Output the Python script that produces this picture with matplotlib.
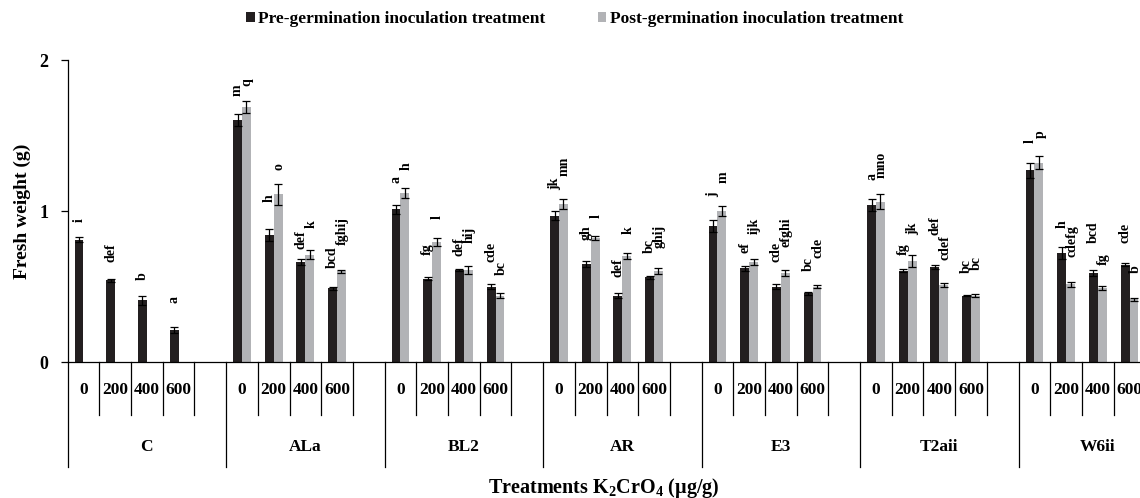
import matplotlib
matplotlib.use('Agg')
import matplotlib.pyplot as plt
from matplotlib.patches import Patch
from matplotlib.transforms import blended_transform_factory

plt.rcParams['font.family'] = ['Liberation Serif', 'DejaVu Serif']
plt.rcParams['font.weight'] = 'bold'
plt.rcParams['mathtext.fontset'] = 'custom'
plt.rcParams['mathtext.rm'] = 'Liberation Serif:bold'
plt.rcParams['mathtext.bf'] = 'Liberation Serif:bold'
plt.rcParams['mathtext.it'] = 'Liberation Serif:bold:italic'

# ---------------- data ----------------
groups = ['C', 'ALa', 'BL2', 'AR', 'E3', 'T2aii', 'W6ii']
doses = ['0', '200', '400', '600']
series_names = ['Pre-germination inoculation treatment',
                'Post-germination inoculation treatment']

pre = [[0.81, 0.54, 0.41, 0.21],
       [1.60, 0.84, 0.66, 0.49],
       [1.01, 0.55, 0.61, 0.50],
       [0.97, 0.65, 0.44, 0.56],
       [0.90, 0.62, 0.50, 0.455],
       [1.04, 0.605, 0.63, 0.44],
       [1.27, 0.72, 0.59, 0.645]]
pre_err = [[0.015, 0.01, 0.03, 0.02],
           [0.04, 0.04, 0.02, 0.01],
           [0.03, 0.01, 0.005, 0.015],
           [0.03, 0.02, 0.015, 0.01],
           [0.04, 0.015, 0.015, 0.01],
           [0.04, 0.01, 0.015, 0.005],
           [0.05, 0.04, 0.02, 0.01]]
post = [None,
        [1.69, 1.11, 0.71, 0.60],
        [1.12, 0.795, 0.61, 0.44],
        [1.045, 0.82, 0.70, 0.60],
        [1.00, 0.66, 0.59, 0.50],
        [1.06, 0.67, 0.51, 0.44],
        [1.32, 0.515, 0.49, 0.415]]
post_err = [None,
            [0.04, 0.07, 0.03, 0.01],
            [0.035, 0.025, 0.025, 0.015],
            [0.035, 0.015, 0.02, 0.02],
            [0.035, 0.02, 0.018, 0.01],
            [0.05, 0.04, 0.01, 0.01],
            [0.045, 0.015, 0.015, 0.01]]
pre_letters = [['i', 'def', 'b', 'a'],
               ['m', 'h', 'def', 'bcd'],
               ['a', 'fg', 'def', 'cde'],
               ['jk', 'gh', 'def', 'bc'],
               ['j', 'ef', 'cde', 'bc'],
               ['a', 'fg', 'def', 'bc'],
               ['l', 'h', 'bcd', 'cde']]
post_letters = [None,
                ['q', 'o', 'k', 'fghij'],
                ['h', 'l', 'hij', 'bc'],
                ['mn', 'l', 'k', 'ghij'],
                ['m', 'ijk', 'efghi', 'cde'],
                ['mno', 'jk', 'cdef', 'bc'],
                ['p', 'cdefg', 'fg', 'b']]

# ---------------- layout / style ----------------
# gap between top of error bar and the significance letters (annotation placement)
pre_gap = [[0.105, 0.11, 0.10, 0.16],
           [0.12, 0.18, 0.07, 0.12],
           [0.145, 0.15, 0.09, 0.15],
           [0.14, 0.14, 0.11, 0.15],
           [0.15, 0.09, 0.145, 0.14],
           [0.125, 0.095, 0.195, 0.145],
           [0.13, 0.125, 0.18, 0.135]]
post_gap = [None,
            [0.10, 0.09, 0.145, 0.165],
            [0.115, 0.13, 0.15, 0.12],
            [0.15, 0.12, 0.13, 0.135],
            [0.15, 0.17, 0.155, 0.18],
            [0.11, 0.13, 0.155, 0.16],
            [0.12, 0.165, 0.135, 0.165]]

c_pre = '#231f20'
c_post = '#b2b3b6'
slots_per_group = 5
bw = 0.28

W, H = 1140, 498
fig = plt.figure(figsize=(W / 100, H / 100), dpi=100)
left_px, top_px, bot_px = 67.6, 60, 362
slot_px = 31.7
ax = fig.add_axes([left_px / W, 1 - bot_px / H, 1 - left_px / W, (bot_px - top_px) / H])
ax.set_xlim(0, (W - left_px) / slot_px)
ax.set_ylim(0, 2)

for g in range(len(groups)):
    for d in range(len(doses)):
        base = g * slots_per_group + d
        xp = base + 0.5 - bw / 2
        ax.bar(xp, pre[g][d], width=bw, color=c_pre, zorder=2)
        ax.errorbar(xp, pre[g][d], yerr=pre_err[g][d], fmt='none', ecolor='black',
                    elinewidth=0.9, capsize=3, capthick=0.9, zorder=3)
        ax.text(xp, pre[g][d] + pre_err[g][d] + pre_gap[g][d], pre_letters[g][d],
                rotation=90, ha='center', va='bottom', fontsize=10, fontweight='bold')
        if post[g] is not None:
            xq = base + 0.5 + bw / 2
            ax.bar(xq, post[g][d], width=bw, color=c_post, zorder=2)
            ax.errorbar(xq, post[g][d], yerr=post_err[g][d], fmt='none', ecolor='black',
                        elinewidth=0.9, capsize=3, capthick=0.9, zorder=3)
            ax.text(xq + 0.03, post[g][d] + post_err[g][d] + post_gap[g][d], post_letters[g][d],
                    rotation=90, ha='center', va='bottom', fontsize=10, fontweight='bold')

# axes styling
for s in ['top', 'right']:
    ax.spines[s].set_visible(False)
ax.spines['left'].set_linewidth(0.9)
ax.spines['bottom'].set_linewidth(0.9)
ax.set_xticks([])
ax.set_yticks([0, 1, 2])
ax.set_yticklabels(['0', '1', '2'], fontsize=13, fontweight='bold')
ax.tick_params(axis='y', direction='out', length=5, width=0.9, pad=9)

# multi-level category axis
trans = blended_transform_factory(ax.transData, ax.transAxes)
n_slots = len(groups) * slots_per_group
for k in range(n_slots + 1):
    y_end = -0.348 if k % slots_per_group == 0 else -0.1755
    ax.plot([k, k], [0, y_end], color='black', lw=0.9, transform=trans, clip_on=False)
for g, name in enumerate(groups):
    for d, lab in enumerate(doses):
        ax.text(g * slots_per_group + d + 0.5, -0.093, lab, transform=trans,
                ha='center', va='center', fontsize=12.5, fontweight='bold')
    ax.text(g * slots_per_group + slots_per_group / 2, -0.281, name, transform=trans,
            ha='center', va='center', fontsize=12.5, fontweight='bold')

ax.text(0.5, -0.417, r'Treatments K$_{\mathrm{2}}$CrO$_{\mathrm{4}}$ (µg/g)', transform=ax.transAxes,
        ha='center', va='center', fontsize=14.5, fontweight='bold')
ax.text(-0.0425, 0.5, 'Fresh weight (g)', transform=ax.transAxes, rotation=90,
        ha='center', va='center', fontsize=14, fontweight='bold')

handles = [Patch(facecolor=c_pre), Patch(facecolor=c_post)]
fig.legend(handles, series_names, loc='center', bbox_to_anchor=(0.504, 0.962), ncol=2,
           frameon=False, handlelength=0.5, handleheight=0.5, handletextpad=0.2,
           columnspacing=3.0, prop={'family': 'Liberation Serif', 'weight': 'bold', 'size': 12.5})

fig.savefig('out.png', dpi=100)
